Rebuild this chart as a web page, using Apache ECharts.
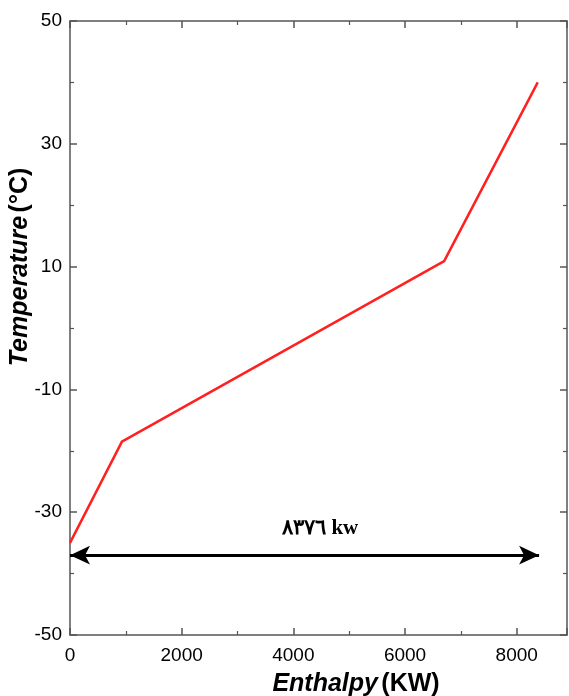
<!DOCTYPE html>
<html><head><meta charset="utf-8">
<script src="https://cdn.jsdelivr.net/npm/echarts@6/dist/echarts.min.js"></script>
<style>html,body{margin:0;padding:0;background:#fff}#c{width:569px;height:696px}</style>
</head><body><div id="c"></div>
<script>
var enthalpy = [0, 930, 6700, 8376];
var temperature = [-35, -18.5, 10.9, 40];
var arrowSpan = [0, 8400];
var arrowLevel = -37;
var annotText = '٨٣٧٦ kw';
var annotPos = [4480, -32.7];

var chart = echarts.init(document.getElementById('c'));
var axisLine = {show: true, onZero: false, lineStyle: {color: '#555', width: 1.5}};
var tickStyle = {show: true, inside: true, length: 7, lineStyle: {color: '#555', width: 1.5}};
var minorStyle = {show: true, splitNumber: 2, length: 4, lineStyle: {color: '#555', width: 1.2}};
var nameRich = {
  i: {fontSize: 25, fontWeight: 'bold', fontStyle: 'italic', fontFamily: 'Liberation Sans', color: '#000'},
  n: {fontSize: 25, fontWeight: 'bold', fontFamily: 'Liberation Sans', color: '#000'}};
function plain(v) { return String(v); }
chart.setOption({
  animation: false,
  backgroundColor: '#fff',
  grid: {left: 70, right: 2, top: 21, bottom: 61, outerBoundsMode: 'none', containLabel: false},
  xAxis: [{
    type: 'value', min: 0, max: 8900, interval: 2000,
    axisLine: axisLine, axisTick: tickStyle, minorTick: minorStyle,
    splitLine: {show: false},
    axisLabel: {color: '#000', fontSize: 19, fontFamily: 'Liberation Sans', margin: 11,
      formatter: plain, showMaxLabel: false},
    name: '{i|Enthalpy} {n|(KW)}', nameLocation: 'middle', nameGap: 37,
    nameTextStyle: {rich: nameRich, padding: [0, 0, 0, 75]}
  }, {
    type: 'value', position: 'top', min: 0, max: 8900, interval: 2000,
    axisLine: axisLine, axisTick: tickStyle, minorTick: minorStyle,
    splitLine: {show: false}, axisLabel: {show: false}
  }],
  yAxis: [{
    type: 'value', min: -50, max: 50, interval: 20,
    axisLine: axisLine, axisTick: tickStyle, minorTick: minorStyle,
    splitLine: {show: false},
    axisLabel: {color: '#000', fontSize: 19, fontFamily: 'Liberation Sans', margin: 8, formatter: plain},
    name: '{i|Temperature} {n|(°C)}', nameLocation: 'middle', nameGap: 37, nameMoveOverlap: false,
    nameTextStyle: {rich: nameRich, padding: [0, 0, 0, 122]}
  }, {
    type: 'value', position: 'right', min: -50, max: 50, interval: 20,
    axisLine: axisLine, axisTick: tickStyle, minorTick: minorStyle,
    splitLine: {show: false}, axisLabel: {show: false}
  }],
  series: [{
    type: 'line',
    data: enthalpy.map(function (x, i) { return [x, temperature[i]]; }),
    symbol: 'none',
    lineStyle: {color: '#ff2020', width: 2.5},
    markLine: {
      silent: true, symbol: ['arrow', 'arrow'], symbolSize: [14, 20],
      lineStyle: {color: '#000', width: 3, type: 'solid'},
      label: {show: false},
      data: [[{coord: [arrowSpan[0], arrowLevel]}, {coord: [arrowSpan[1], arrowLevel]}]]
    },
    markPoint: {
      silent: true, symbol: 'rect', symbolSize: [1, 1],
      itemStyle: {color: 'rgba(0,0,0,0)'},
      label: {show: true, position: 'inside', formatter: annotText,
        fontFamily: 'Liberation Serif', fontWeight: 'bold', fontSize: 21, color: '#000',
        backgroundColor: '#fff', padding: [10, 40]},
      data: [{coord: annotPos}]
    }
  }, {
    type: 'line', xAxisIndex: 1, yAxisIndex: 1, data: [], silent: true
  }]
});
</script></body></html>
